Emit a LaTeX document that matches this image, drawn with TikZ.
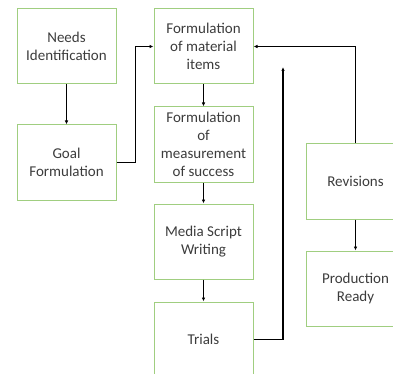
\documentclass[tikz,border=0pt]{standalone}
\usepackage{fontspec}
\setmainfont{Carlito}
\usetikzlibrary{arrows.meta}
\definecolor{boxgreen}{RGB}{160,206,128}
\definecolor{txtgray}{RGB}{60,60,60}

\tikzset{
  stagebox/.style={draw=boxgreen, line width=1pt, rectangle, minimum width=99pt,
    minimum height=75pt, inner sep=0pt, align=center, text=txtgray,
    font=\fontsize{15}{18}\selectfont},
  flow/.style={line width=1.1pt, -{Latex[length=4pt,width=3.5pt]}}
}

\begin{document}
\begin{tikzpicture}[x=1pt, y=-1pt]
    \clip (0,0) rectangle (393,374);
    \node[stagebox] (needs) at (66.5, 46.5) {Needs\\Identification};
    \node[stagebox] (goal) at (66.5, 162.5) {Goal\\Formulation};
    \node[stagebox] (material) at (203.5, 46.5) {Formulation\\of material\\items};
    \node[stagebox] (measure) at (203.5, 144.5) {Formulation\\of\\measurement\\of success};
    \node[stagebox] (media) at (203.5, 241.5) {Media Script\\Writing};
    \node[stagebox] (trials) at (203.5, 339.5) {Trials};
    \node[stagebox] (revisions) at (355.5, 181.5) {Revisions};
    \node[stagebox] (ready) at (355.5, 288.5) {Production\\Ready};
    \coordinate (trialtip) at (283, 67);
    \draw [flow] (needs) to (goal);
    \draw [flow] (goal.east) -- ++(19,0) |- (material.west);
    \draw [flow] (material) to (measure);
    \draw [flow] (measure) to (media);
    \draw [flow] (media) to (trials);
    \draw [flow] (trials.east) -| (trialtip);
    \draw [flow] (revisions.north) |- (material.east);
    \draw [flow] (revisions) to (ready);
\end{tikzpicture}
\end{document}
